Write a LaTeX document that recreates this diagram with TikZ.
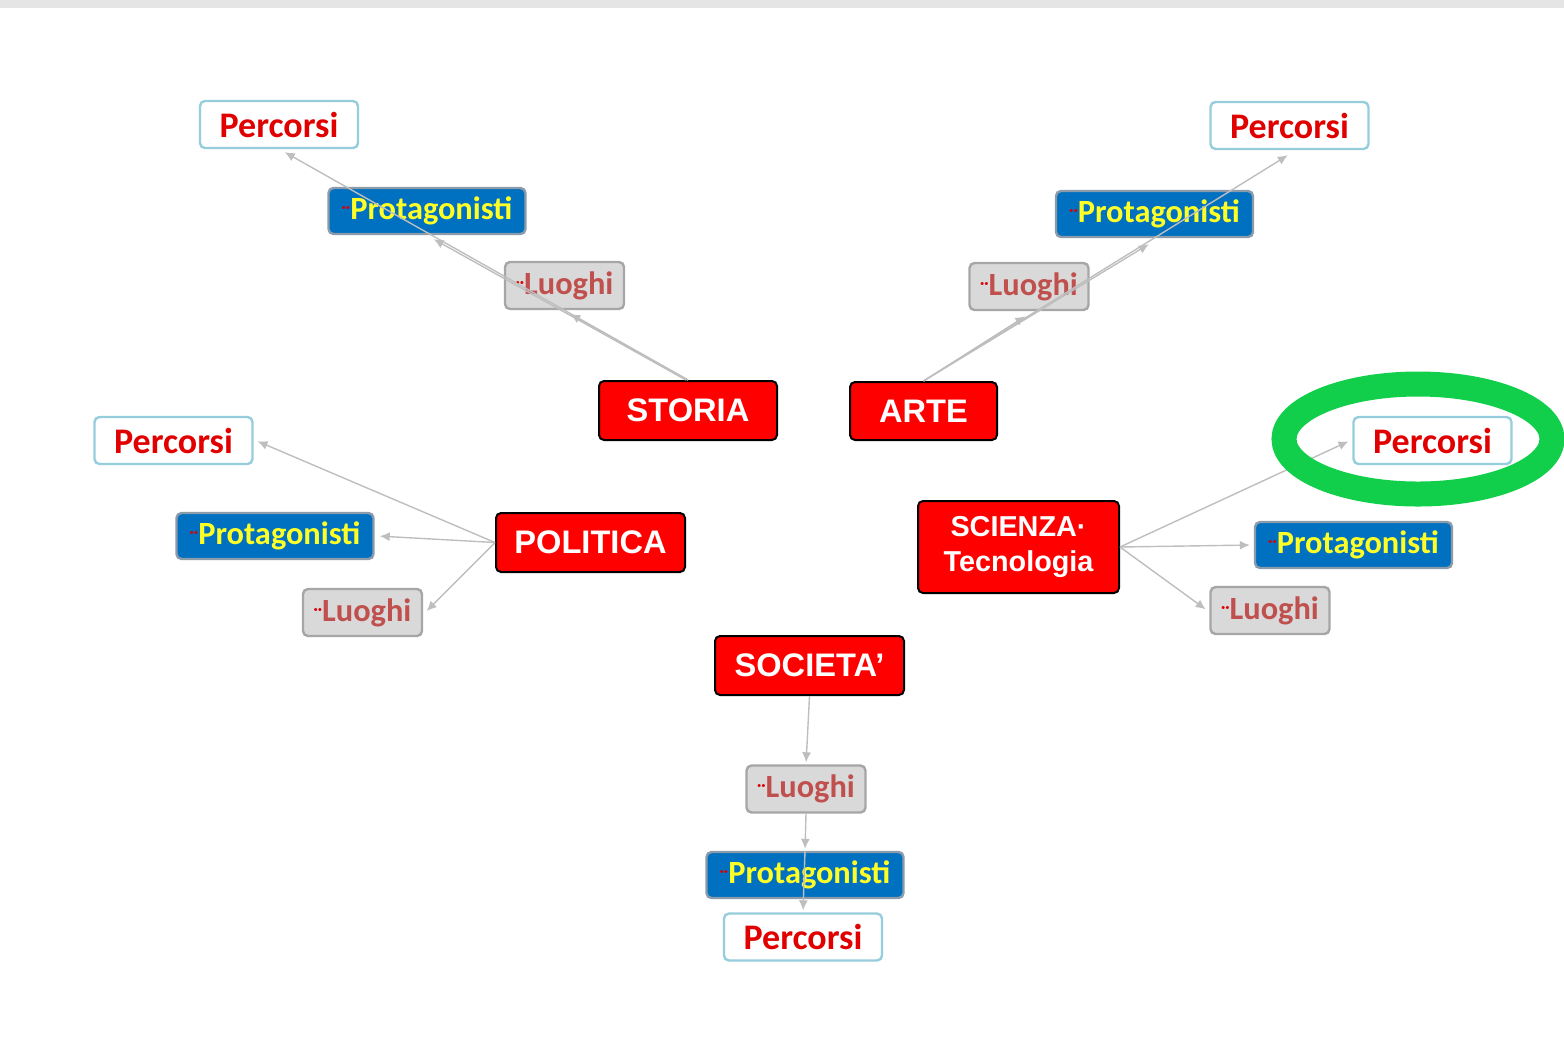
\documentclass[tikz,border=0pt]{standalone}
\usepackage{fontspec}
\setmainfont{Liberation Sans}
\newfontfamily\carl{Carlito}[BoldFont={Carlito Bold}]
\usetikzlibrary{arrows.meta,calc}
\definecolor{edgegray}{RGB}{190,190,190}
\definecolor{mainred}{RGB}{255,0,0}
\definecolor{percred}{RGB}{225,0,0}
\definecolor{percborder}{RGB}{150,205,220}
\definecolor{protblue}{RGB}{0,112,192}
\definecolor{protborder}{RGB}{140,155,170}
\definecolor{protyellow}{RGB}{255,255,40}
\definecolor{luofill}{RGB}{217,217,217}
\definecolor{luoborder}{RGB}{166,166,166}
\definecolor{luotext}{RGB}{192,80,77}
\definecolor{ringgreen}{RGB}{17,207,75}
\definecolor{topbar}{RGB}{229,229,229}
\newcommand{\dotmark}{\raisebox{3.5pt}{\fontsize{8}{8}\selectfont\textcolor{red!85!black}{··}}}
\tikzset{
  mainbox/.style={draw=black, line width=1pt, fill=mainred, rounded corners=2.5pt,
    text=white, font=\bfseries\fontsize{16.3}{19}\selectfont, inner sep=0pt, align=center},
  percbox/.style={draw=percborder, line width=1.2pt, fill=white, rounded corners=2.5pt,
    text=percred, font=\carl\bfseries\fontsize{18}{20}\selectfont, inner sep=0pt,
    minimum width=79pt, minimum height=23.5pt},
  protbox/.style={draw=protborder, line width=1.2pt, fill=protblue, rounded corners=2.5pt,
    text=protyellow, font=\carl\bfseries\fontsize{16.2}{18}\selectfont, inner sep=0pt,
    minimum width=98.5pt, minimum height=23pt},
  luobox/.style={draw=luoborder, line width=1.2pt, fill=luofill, rounded corners=2.5pt,
    text=luotext, font=\carl\bfseries\fontsize{16.2}{18}\selectfont, inner sep=0pt,
    minimum width=59.5pt, minimum height=23.5pt},
  conn/.style={draw=edgegray, line width=0.7pt, -{Latex[length=5pt,width=4.5pt]}, shorten >=1pt}
}
\begin{document}
\begin{tikzpicture}[x=0.5pt,y=-0.5pt]
\useasboundingbox (0,0) rectangle (1564,1046);
\fill[topbar] (0,0) rectangle (1564,8);

% main nodes
\node[mainbox, minimum width=89pt, minimum height=29.5pt] (sto) at (688,410.5) {STORIA};
\node[mainbox, minimum width=73.5pt, minimum height=29pt] (art) at (923.5,411) {ARTE};
\node[mainbox, minimum width=94.5pt, minimum height=29.5pt] (pol) at (590.5,542.5) {POLITICA};
\node[mainbox, minimum width=100.5pt, minimum height=46pt, font=\bfseries\fontsize{14.4}{17.5}\selectfont] (sci) at (1018.5,547) {SCIENZA·\\Tecnologia};
\node[mainbox, minimum width=94.5pt, minimum height=29.5pt] (soc) at (809.5,665.5) {SOCIETA’};

% storia branch
\node[percbox] (spe) at (279,124.5) {Percorsi};
\node[protbox] (spr) at (427,211) {\dotmark Protagonisti};
\node[luobox] (slu) at (564.5,285.5) {\dotmark Luoghi};

% arte branch
\node[percbox] (ape) at (1289.5,125.5) {Percorsi};
\node[protbox] (apr) at (1154.5,214) {\dotmark Protagonisti};
\node[luobox] (alu) at (1029,286.5) {\dotmark Luoghi};

% politica branch
\node[percbox] (ppe) at (173.5,440.5) {Percorsi};
\node[protbox] (ppr) at (275,536) {\dotmark Protagonisti};
\node[luobox] (plu) at (362.5,612.5) {\dotmark Luoghi};

% scienza branch
\node[percbox] (cpe) at (1432.5,440.5) {Percorsi};
\node[protbox] (cpr) at (1353.5,545) {\dotmark Protagonisti};
\node[luobox] (clu) at (1270,610.5) {\dotmark Luoghi};

% societa branch
\node[luobox] (olu) at (806,789) {\dotmark Luoghi};
\node[protbox] (opr) at (805,875) {\dotmark Protagonisti};
\node[percbox] (ope) at (803,937) {Percorsi};

% connectors
\draw[conn] (sto.north) -- ($(slu.south)+(4,3)$);
\draw[conn] ($(sto.north)+(-2,0)$) -- ($(spr.south)+(5,3)$);
\draw[conn] (sto.north) -- ($(spe.south)+(4,2)$);

\draw[conn] (art.north) -- ($(alu.south)+(-2,4)$);
\draw[conn] (art.north) -- ($(apr.south)+(-4,5)$);
\draw[conn] (art.north) -- ($(ape.south)+(0,4)$);

\draw[conn] (pol.west) -- ($(ppe.east)+(2,0)$);
\draw[conn] (pol.west) -- ($(ppr.east)+(3,0)$);
\draw[conn] (pol.west) -- ($(plu.east)+(2,0)$);

\draw[conn] (sci.east) -- ($(cpe.west)+(-2,0)$);
\draw[conn] (sci.east) -- ($(cpr.west)+(-2,0)$);
\draw[conn] (sci.east) -- ($(clu.west)+(-2,0)$);

\draw[conn] (soc.south) -- (olu.north);
\draw[conn] (olu.south) -- (opr.north);
\draw[conn] (opr.north) -- (ope.north);

% highlight ring
\draw[ringgreen, line width=12.5pt] (1418,439) ellipse [x radius=134, y radius=55];
\end{tikzpicture}
\end{document}
